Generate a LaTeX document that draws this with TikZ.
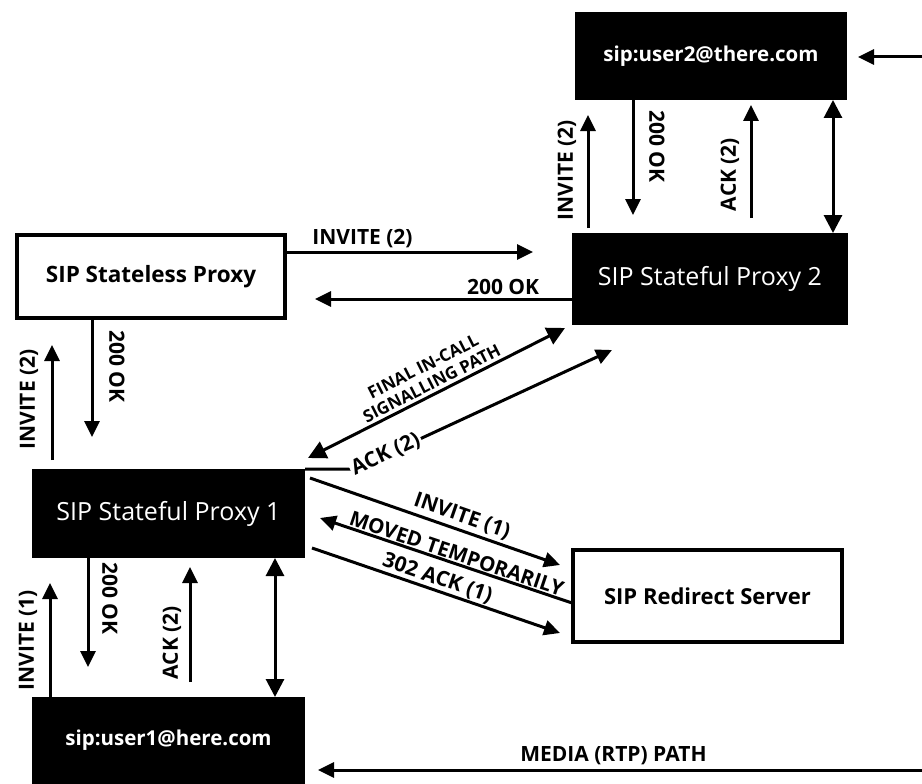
\documentclass[tikz,border=0pt]{standalone}
\usepackage{fontspec}
\setmainfont{Open Sans}
\usetikzlibrary{arrows.meta}
\begin{document}
\begin{tikzpicture}[x=1pt,y=-1pt,
  darkbox/.style={fill=black, text=white, inner sep=0pt, outer sep=0pt,
    font=\fontsize{25}{29}\selectfont},
  lightbox/.style={draw=black, line width=4pt, fill=white, inner sep=0pt, outer sep=0pt,
    font=\bfseries\fontsize{22.5}{26}\selectfont},
  headtip/.tip={Triangle[length=16pt,width=15pt]},
  bigtip/.tip={Triangle[length=18pt,width=18pt]},
  msg/.style={line width=3pt, -headtip},
  msgback/.style={line width=3pt, headtip-},
  twoway/.style={line width=3pt, bigtip-bigtip},
  lbl/.style={font=\bfseries\fontsize{21}{24}\selectfont, inner sep=1pt},
]
\useasboundingbox (0,0) rectangle (922,784);

% boxes
\node[darkbox, font=\bfseries\fontsize{20.5}{24}\selectfont,
      minimum width=272pt, minimum height=88pt] (user2) at (711,56) {sip:user2@there.com};
\node[darkbox, minimum width=276pt, minimum height=92pt] (proxy2) at (710,279) {SIP Stateful Proxy 2};
\node[lightbox, minimum width=268pt, minimum height=83pt] (stateless) at (151,276.5) {SIP Stateless Proxy};
\node[darkbox, minimum width=273pt, minimum height=89pt] (proxy1) at (168.5,513.5) {SIP Stateful Proxy 1};
\node[darkbox, font=\bfseries\fontsize{20.5}{24}\selectfont,
      minimum width=273pt, minimum height=87pt] (user1) at (168.5,740.5) {sip:user1@here.com};
\node[lightbox, font=\bfseries\fontsize{22}{26}\selectfont,
      minimum width=269pt, minimum height=92pt] (redirect) at (707.5,596) {SIP Redirect Server};

% free ends of the media path
\coordinate (mediatop) at (922,57);
\coordinate (mediabot) at (922,770);

% user2 <-> proxy2
\draw[msg, shorten <=5pt, shorten >=15pt] ([shift={(-122,0)}]proxy2.north) -- ([shift={(-123,0)}]user2.south)
  node[lbl, pos=.47, xshift=-21pt, rotate=90] {INVITE (2)};
\draw[msg, shorten >=18pt] ([shift={(-78,0)}]user2.south) -- ([shift={(-77,0)}]proxy2.north)
  node[lbl, pos=.35, xshift=24pt, rotate=-90] {200 OK};
\draw[msg, shorten <=15pt, shorten >=5pt] ([shift={(41,0)}]proxy2.north) -- ([shift={(40,0)}]user2.south)
  node[lbl, pos=.44, xshift=-21pt, rotate=90] {ACK (2)};
\draw[twoway] ([shift={(122,0)}]user2.south) -- ([shift={(123,0)}]proxy2.north);

% stateless <-> proxy2
\draw[msg, shorten >=39pt] ([shift={(0,-24.5)}]stateless.east) -- ([shift={(0,-27)}]proxy2.west)
  node[lbl, above=2pt, pos=.27] {INVITE (2)};
\draw[msg, shorten >=30pt] ([shift={(0,20)}]proxy2.west) -- ([shift={(0,22.5)}]stateless.east)
  node[lbl, above=2pt, pos=.24] {200 OK};

% stateless <-> proxy1
\draw[msg, shorten >=32pt] ([shift={(-59,0)}]stateless.south) -- ([shift={(-76.5,0)}]proxy1.north)
  node[lbl, pos=.32, xshift=25pt, rotate=-90] {200 OK};
\draw[msg, shorten <=9pt, shorten >=27pt] ([shift={(-116.5,0)}]proxy1.north) -- ([shift={(-99,0)}]stateless.south)
  node[lbl, pos=.46, xshift=-23pt, rotate=90] {INVITE (2)};

% proxy1 <-> user1
\draw[msg, shorten >=25pt] ([shift={(-118.5,0)}]user1.north) -- ([shift={(-118.5,0)}]proxy1.south)
  node[lbl, pos=.41, xshift=-22pt, rotate=90] {INVITE (1)};
\draw[msg, shorten >=30pt] ([shift={(-80.5,0)}]proxy1.south) -- ([shift={(-80.5,0)}]user1.north)
  node[lbl, pos=.29, xshift=22pt, rotate=-90] {200 OK};
\draw[msg, shorten <=15pt, shorten >=9pt] ([shift={(21.5,0)}]user1.north) -- ([shift={(21.5,0)}]proxy1.south)
  node[lbl, pos=.39, xshift=-18pt, rotate=90] {ACK (2)};
\draw[twoway] ([shift={(106.5,0)}]proxy1.south) -- ([shift={(106.5,0)}]user1.north);

% proxy1 <-> proxy2
\draw[twoway] ([shift={(3,-11)}]proxy1.north east) -- ([shift={(-7,3)}]proxy2.south west)
  node[lbl, font=\bfseries\fontsize{17}{19}\selectfont, align=center, midway, sloped, above=2pt]
  {FINAL IN-CALL\\SIGNALLING PATH};
\draw[msg] (proxy1.north east) -- ++(50,0) -- ([shift={(40,25)}]proxy2.south west)
  node[lbl, pos=.12, sloped, fill=white, inner sep=2pt] {ACK (2)};

% proxy1 <-> redirect
\draw[msg] ([shift={(5,9)}]proxy1.north east) -- ([shift={(-13,-31)}]redirect.west)
  node[lbl, pos=.59, sloped, above=2pt] {INVITE (1)};
\draw[msgback] ([shift={(15,4.5)}]proxy1.east) -- ([shift={(-1,7)}]redirect.west)
  node[lbl, font=\bfseries\fontsize{20.5}{24}\selectfont, pos=.53, sloped, above=0pt] {MOVED TEMPORARILY};
\draw[msg] ([shift={(7,-10)}]proxy1.south east) -- ([shift={(-13,-9)}]redirect.south west)
  node[lbl, pos=.49, sloped, above=0pt] {302 ACK (1)};

% media path
\draw[msg, shorten >=11pt] (mediatop) -- (user2.east |- mediatop);
\draw[msg, shorten >=13pt] (mediabot) -- (user1.east |- mediabot)
  node[lbl, midway, above=3pt] {MEDIA (RTP) PATH};
\end{tikzpicture}
\end{document}
